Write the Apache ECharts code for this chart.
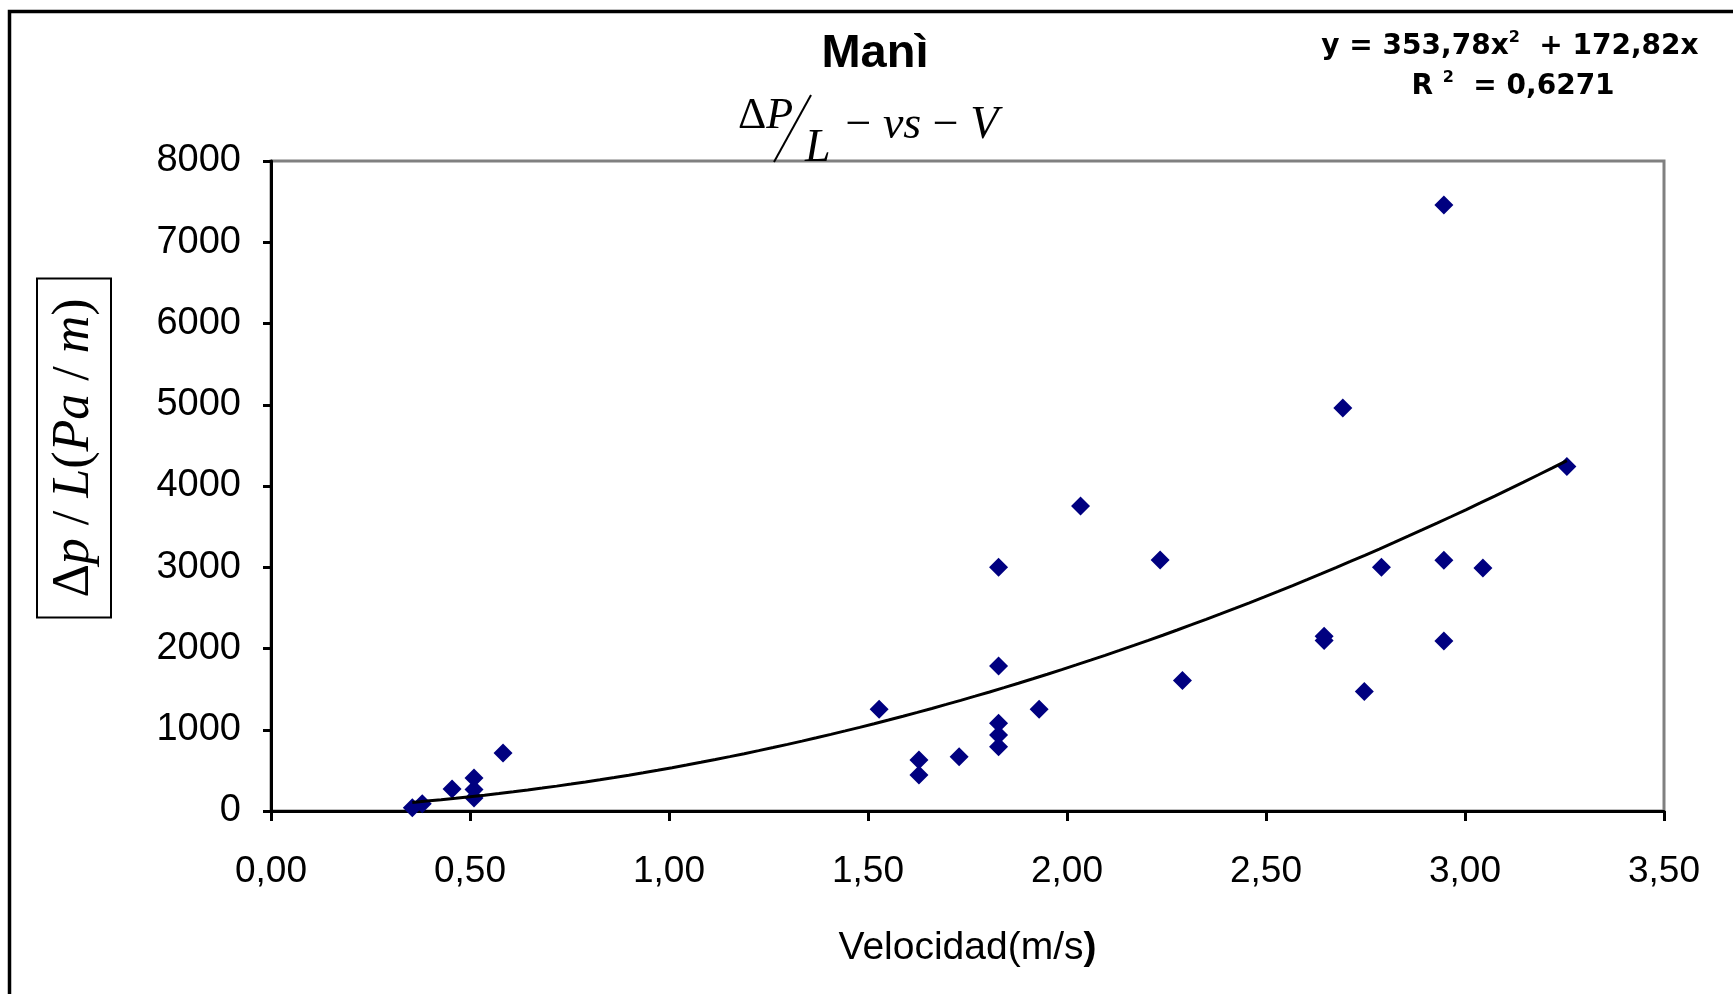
<!DOCTYPE html>
<html>
<head>
<meta charset="utf-8">
<script src="https://cdn.jsdelivr.net/npm/echarts@6/dist/echarts.min.js"></script>
<style>
  html, body { margin: 0; padding: 0; background: #fff; }
  #chart { width: 1733px; height: 994px; }
</style>
</head>
<body>
<div id="chart"></div>
<script>
// Measured velocity (m/s) and pressure drop per length (Pa/m)
const velocity = [0.355, 0.38, 0.455, 0.51, 0.51, 0.51, 0.583,
  1.528, 1.628, 1.628, 1.729, 1.828, 1.828, 1.828, 1.828, 1.828, 1.93,
  2.034, 2.234, 2.29, 2.646, 2.646, 2.693, 2.747, 2.79,
  2.947, 2.947, 2.947, 3.045, 3.256];
const pressureDrop = [40, 90, 270, 405, 265, 160, 715,
  1252, 628, 443, 668, 3000, 1785, 1079, 935, 792, 1252,
  3755, 3088, 1605, 2150, 2100, 4960, 1470, 3000,
  7460, 3085, 2092, 2990, 4240];

// Polynomial trend line y = a*x^2 + b*x (coefficients as printed on the chart)
const fitA = 353.78;
const fitB = 172.82;
const fitR2 = '0,6271';

const xRange = [0, 3.5, 0.5];
const yRange = [0, 8000, 1000];

const points = velocity.map((v, i) => [v, pressureDrop[i]]);
const vMin = Math.min(...velocity), vMax = Math.max(...velocity);
const trend = [];
for (let k = 0; k <= 80; k++) {
  const x = vMin + (vMax - vMin) * k / 80;
  trend.push([x, fitA * x * x + fitB * x]);
}

const sans = 'Liberation Sans, Arial, sans-serif';
const serif = 'Liberation Serif, Times New Roman, serif';
const comma = (n, d) => n.toFixed(d).replace('.', ',');

const chart = echarts.init(document.getElementById('chart'), null, { renderer: 'canvas' });
chart.setOption({
  backgroundColor: '#fff',
  animation: false,
  grid: {
    left: 271, right: 69, top: 161, bottom: 183,
    show: true, borderColor: '#808080', borderWidth: 3, backgroundColor: '#fff'
  },
  xAxis: {
    type: 'value', min: xRange[0], max: xRange[1], interval: xRange[2],
    axisLine: { onZero: false, lineStyle: { color: '#000', width: 3 } },
    axisTick: { length: 10, lineStyle: { color: '#000', width: 3 } },
    axisLabel: { fontSize: 37, fontFamily: sans, color: '#000', margin: 42,
      formatter: v => comma(v, 2) },
    splitLine: { show: false },
    name: '{n|Velocidad(m/s}{b|)}',
    nameLocation: 'middle', nameGap: 118,
    nameTextStyle: {
      rich: {
        n: { fontSize: 39, fontFamily: sans, color: '#000' },
        b: { fontSize: 39, fontFamily: sans, color: '#000', fontWeight: 'bold' }
      }
    }
  },
  yAxis: {
    type: 'value', min: yRange[0], max: yRange[1], interval: yRange[2],
    axisLine: { onZero: false, lineStyle: { color: '#000', width: 3 } },
    axisTick: { length: 8, lineStyle: { color: '#000', width: 3 } },
    axisLabel: { fontSize: 38, fontFamily: sans, color: '#000', margin: 30,
      formatter: v => String(v) },
    splitLine: { show: false }
  },
  series: [
    {
      name: 'Manì', type: 'scatter', data: points,
      symbol: 'diamond', symbolSize: [19, 19],
      itemStyle: { color: '#000080', opacity: 1 }, z: 3
    },
    {
      name: 'trend', type: 'line', data: trend, showSymbol: false, symbol: 'none',
      lineStyle: { color: '#000', width: 3 }, z: 4, silent: true
    }
  ],
  graphic: [
    // outer frame
    { type: 'rect', shape: { x: 9.5, y: 11.5, width: 2000, height: 2000 },
      style: { fill: 'none', stroke: '#000', lineWidth: 3.5 }, silent: true },
    // title
    { type: 'text', style: { text: 'Manì', x: 875, y: 54, align: 'center', verticalAlign: 'middle',
      font: 'bold 47px ' + sans, fill: '#000' } },
    // subtitle formula  ΔP / L − vs − V
    { type: 'text', style: { text: '{u|Δ}{i|P}', x: 738, y: 116, align: 'left', verticalAlign: 'middle',
      rich: { u: { fontSize: 44, fontFamily: serif, fill: '#000' },
              i: { fontSize: 44, fontFamily: serif, fontStyle: 'italic', fill: '#000' } } } },
    { type: 'line', shape: { x1: 774, y1: 162, x2: 811, y2: 95 }, style: { stroke: '#000', lineWidth: 2 } },
    { type: 'text', style: { text: 'L', x: 805, y: 149, align: 'left', verticalAlign: 'middle',
      font: 'italic 46px ' + serif, fill: '#000' } },
    { type: 'text', style: { text: '{u| − }{i|vs}{u| − }{i|V}', x: 834, y: 126, align: 'left', verticalAlign: 'middle',
      rich: { u: { fontSize: 46, fontFamily: serif, fill: '#000' },
              i: { fontSize: 46, fontFamily: serif, fontStyle: 'italic', fill: '#000' } } } },
    // trend line equation
    { type: 'text', style: { text: '{a|y = ' + comma(fitA, 2) + 'x}{s|2}{a|  + ' + comma(fitB, 2) + 'x}',
      x: 1510, y: 47, align: 'center', verticalAlign: 'middle',
      rich: { a: { fontSize: 28, fontFamily: 'DejaVu Sans', fontWeight: 'bold', fill: '#000', lineHeight: 34 },
              s: { fontSize: 16, fontFamily: 'DejaVu Sans', fontWeight: 'bold', fill: '#000', verticalAlign: 'top', lineHeight: 34 } } } },
    { type: 'text', style: { text: '{a|R }{s|2}{a|  = ' + fitR2 + '}',
      x: 1513, y: 87, align: 'center', verticalAlign: 'middle',
      rich: { a: { fontSize: 28, fontFamily: 'DejaVu Sans', fontWeight: 'bold', fill: '#000', lineHeight: 34 },
              s: { fontSize: 16, fontFamily: 'DejaVu Sans', fontWeight: 'bold', fill: '#000', verticalAlign: 'top', lineHeight: 34 } } } },
    // boxed y-axis title
    { type: 'text', x: 74, y: 448, rotation: Math.PI / 2,
      style: { text: '{u|Δ}{i|p}{u| / }{i|L}{u|(}{i|Pa}{u| / }{i|m}{u|)}',
        x: 0, y: 0, align: 'center', verticalAlign: 'middle',
        borderColor: '#000', borderWidth: 2, padding: [6, 20],
        rich: { u: { fontSize: 52, fontFamily: serif, fill: '#000', lineHeight: 62 },
                i: { fontSize: 52, fontFamily: serif, fontStyle: 'italic', fill: '#000', lineHeight: 62 } } } }
  ]
});
</script>
</body>
</html>
